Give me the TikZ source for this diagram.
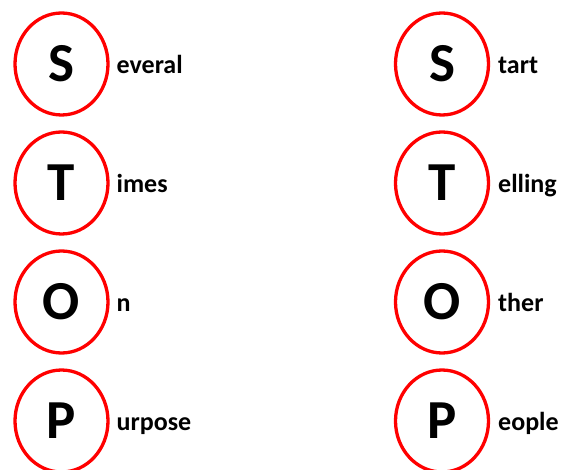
\documentclass[tikz,border=0pt]{standalone}
\usepackage{fontspec}
\setmainfont{Carlito}
\usetikzlibrary{shapes.geometric}

\begin{document}
\begin{tikzpicture}[x=1pt,y=-1pt,
  every node/.style={inner sep=0pt},
  ring/.style={draw=red,line width=3.3pt,ellipse,minimum width=93pt,minimum height=102pt,
    font=\fontsize{55}{55}\selectfont\bfseries},
  word/.style={anchor=base west,font=\fontsize{26}{26}\selectfont\bfseries}]
  \useasboundingbox (0,0) rectangle (562,470);
  % two columns of letters, each with the rest of its word
  \foreach \i/\y/\c/\a/\b in {1/64/S/everal/tart,2/183/T/imes/elling,3/302/O/n/ther,4/421/P/urpose/eople} {
    \node[ring] (L\i) at (61.5,\y) {\c};
    \node[word] (LW\i) at ([xshift=55pt,yshift=-9.5pt]L\i.center) {\a};
    \node[ring] (R\i) at (442,\y) {\c};
    \node[word] (RW\i) at ([xshift=56pt,yshift=-9.5pt]R\i.center) {\b};
  }
\end{tikzpicture}
\end{document}
